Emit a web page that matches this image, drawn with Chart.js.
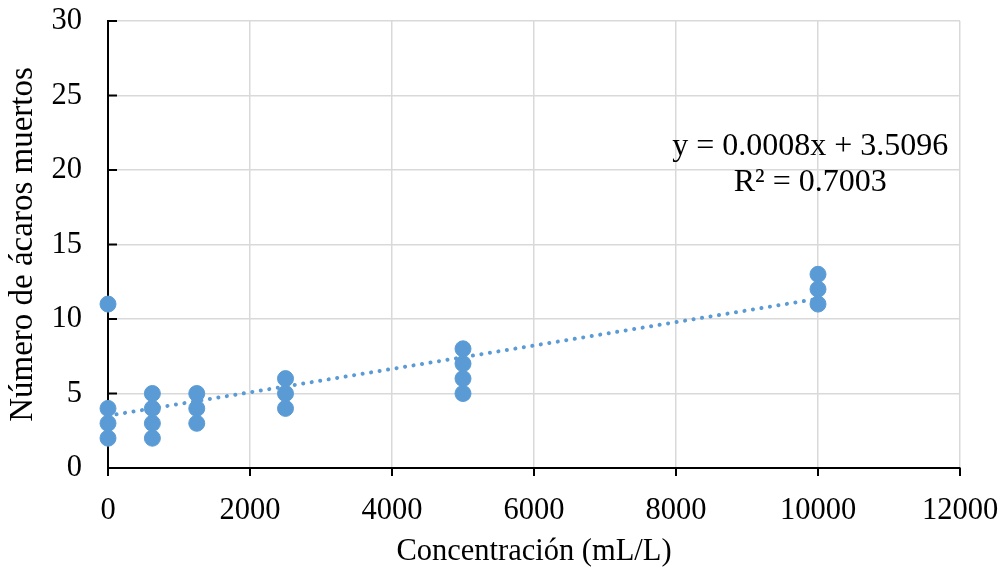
<!DOCTYPE html>
<html>
<head>
<meta charset="utf-8">
<script src="https://cdn.jsdelivr.net/npm/chart.js@4.4.0/dist/chart.umd.min.js"></script>
<style>
  html, body { margin: 0; padding: 0; background: #fff; }
</style>
</head>
<body>
<canvas id="scatterChart" width="1005" height="570"></canvas>
<script>
// concentration (mL/L) and dead mites count
const concX = [0, 0, 0, 0, 625, 625, 625, 625, 1250, 1250, 1250, 2500, 2500, 2500, 5000, 5000, 5000, 5000, 10000, 10000, 10000];
const deadMites = [2, 3, 4, 11, 2, 3, 4, 5, 3, 4, 5, 4, 5, 6, 5, 6, 7, 8, 11, 12, 13];

// linear trendline end points
const trendX = [0, 10000];
const trendY = [3.51, 11.36];

const eqLines = ["y = 0.0008x + 3.5096", "R² = 0.7003"];

const blue = "#5B9BD5";
const font = "Liberation Serif";

// Excel style ticks: inward on y, outward on x; plus the equation text
const axisTicks = {
    id: "axisTicks",
    afterDraw(chart) {
        const ctx = chart.ctx;
        const x = chart.scales.x;
        const y = chart.scales.y;
        ctx.save();
        ctx.strokeStyle = "#000";
        ctx.lineWidth = 2;
        y.ticks.forEach(t => {
            const py = y.getPixelForValue(t.value);
            ctx.beginPath();
            ctx.moveTo(y.right, py);
            ctx.lineTo(y.right + 9, py);
            ctx.stroke();
        });
        x.ticks.forEach(t => {
            const px = x.getPixelForValue(t.value);
            ctx.beginPath();
            ctx.moveTo(px, x.top);
            ctx.lineTo(px, x.top + 8);
            ctx.stroke();
        });
        ctx.fillStyle = "#000";
        ctx.font = "32px '" + font + "'";
        ctx.textAlign = "center";
        ctx.textBaseline = "middle";
        const cx = x.getPixelForValue(9890);
        const cy = y.getPixelForValue(21.6);
        eqLines.forEach((s, i) => ctx.fillText(s, cx, cy + i * 36));
        ctx.restore();
    }
};

new Chart(document.getElementById("scatterChart"), {
    type: "scatter",
    data: {
        datasets: [
            {
                label: "Ácaros muertos",
                data: concX.map((v, i) => ({ x: v, y: deadMites[i] })),
                backgroundColor: blue,
                borderColor: blue,
                pointRadius: 8,
                pointHoverRadius: 8,
                clip: false,
                order: 1
            },
            {
                label: "Lineal",
                type: "line",
                data: trendX.map((v, i) => ({ x: v, y: trendY[i] })),
                borderColor: blue,
                borderWidth: 4,
                borderDash: [0.1, 8.5],
                borderCapStyle: "round",
                pointRadius: 0,
                fill: false,
                clip: false,
                order: 2
            }
        ]
    },
    options: {
        responsive: false,
        animation: false,
        layout: { padding: { top: 21, right: 45, left: 0, bottom: 0 } },
        plugins: { legend: { display: false }, tooltip: { enabled: false } },
        scales: {
            x: {
                type: "linear",
                min: 0, max: 12000,
                ticks: { stepSize: 2000, color: "#000", font: { family: font, size: 30.5 }, padding: 0, maxRotation: 0, callback: v => String(v) },
                grid: { color: "#d9d9d9", lineWidth: 1.5, tickColor: "rgba(0,0,0,0)", tickLength: 25 },
                border: { color: "#000", width: 2 },
                title: { display: true, text: "Concentración (mL/L)", color: "#000", font: { family: font, size: 30.5 }, padding: { top: 4, bottom: 0 } },
                afterFit(scale) { scale.height = 102; }
            },
            y: {
                min: 0, max: 30,
                ticks: { stepSize: 5, color: "#000", font: { family: font, size: 30.5 }, padding: 0, callback: v => String(v) },
                grid: { color: "#d9d9d9", lineWidth: 1.5, tickColor: "rgba(0,0,0,0)", tickLength: 26 },
                border: { color: "#000", width: 2 },
                title: { display: true, text: "Número de ácaros muertos", color: "#000", font: { family: font, size: 33 }, padding: { top: 4, bottom: 4 } },
                afterFit(scale) { scale.width = 108; }
            }
        }
    },
    plugins: [axisTicks]
});
</script>
</body>
</html>
